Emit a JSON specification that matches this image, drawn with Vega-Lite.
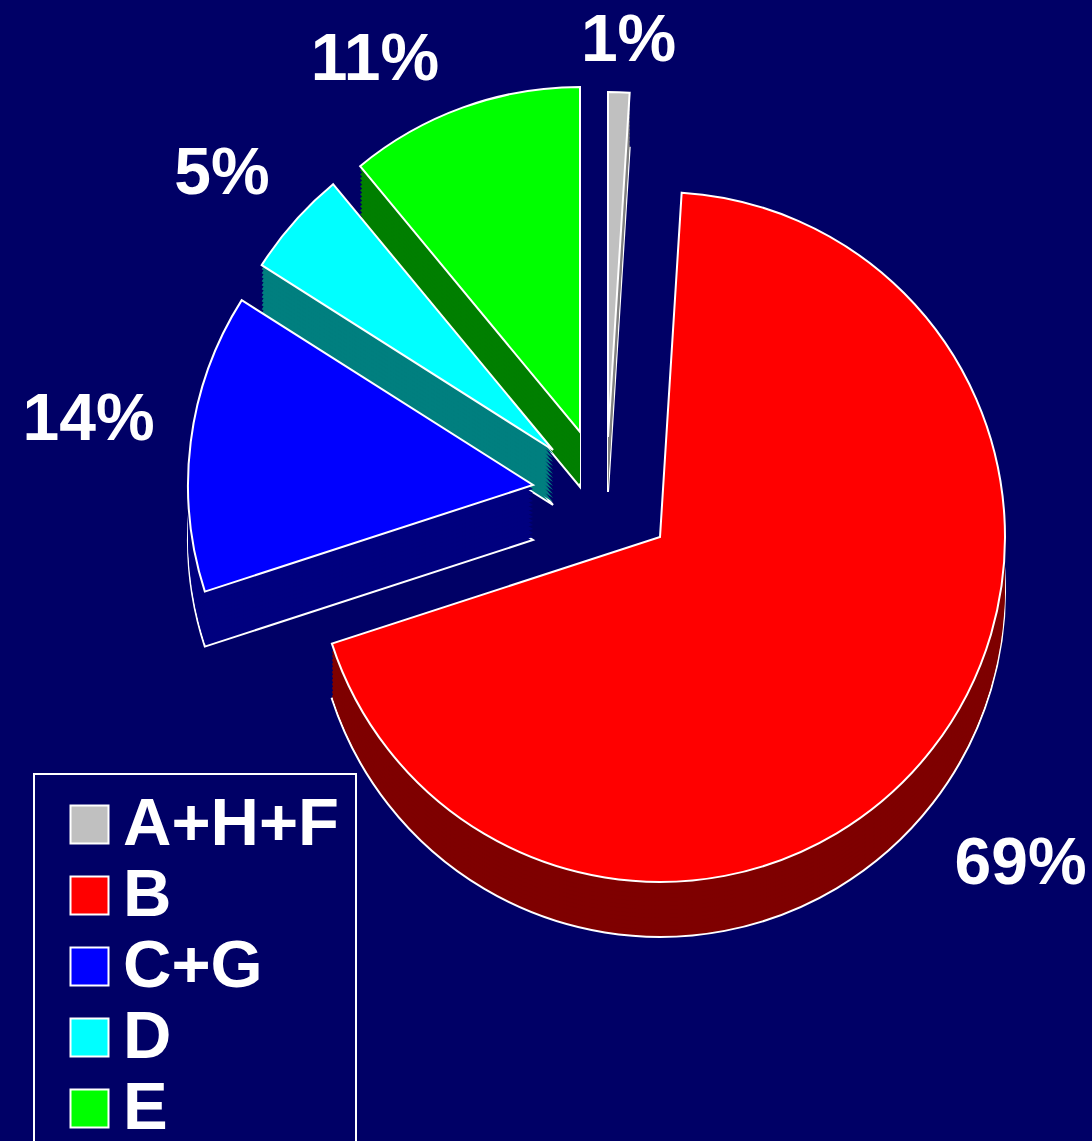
{
  "$schema": "https://vega.github.io/schema/vega-lite/v6.json",
  "width": 864,
  "height": 1074,
  "autosize": {"type": "none"},
  "padding": {"left": 228, "top": 0, "right": 0, "bottom": 67},
  "background": "#000066",
  "config": {"view": {"stroke": null}, "legend": {"strokeWidth": 2}},
  "data": {"values": [
    {"category": "A+H+F", "value": 1, "label": "1%"},
    {"category": "B", "value": 69, "label": "69%"},
    {"category": "C+G", "value": 14, "label": "14%"},
    {"category": "D", "value": 5, "label": "5%"},
    {"category": "E", "value": 11, "label": "11%"}
  ]},
  "transform": [
    {"stack": "value", "groupby": [], "as": ["start", "end"], "sort": [{"field": "category", "order": "ascending"}]},
    {"calculate": "(datum.start + datum.end) / 2", "as": "mid"}
  ],
  "layer": [
    {
      "transform": [{"filter": "datum.category === 'A+H+F'"}],
      "encoding": {"theta": {"field": "start", "type": "quantitative", "scale": {"domain": [0, 100]}}, "theta2": {"field": "end"}},
      "layer": [
        {"mark": {"type": "arc", "radius": 345, "xOffset": -52, "yOffset": -45, "fill": "#808080", "stroke": "white", "strokeWidth": 2}},
        {"mark": {"type": "arc", "radius": 345, "xOffset": -52, "yOffset": -48, "fill": "#808080"}},
        {"mark": {"type": "arc", "radius": 345, "xOffset": -52, "yOffset": -52, "fill": "#808080"}},
        {"mark": {"type": "arc", "radius": 345, "xOffset": -52, "yOffset": -56, "fill": "#808080"}},
        {"mark": {"type": "arc", "radius": 345, "xOffset": -52, "yOffset": -60, "fill": "#808080"}},
        {"mark": {"type": "arc", "radius": 345, "xOffset": -52, "yOffset": -64, "fill": "#808080"}},
        {"mark": {"type": "arc", "radius": 345, "xOffset": -52, "yOffset": -68, "fill": "#808080"}},
        {"mark": {"type": "arc", "radius": 345, "xOffset": -52, "yOffset": -72, "fill": "#808080"}},
        {"mark": {"type": "arc", "radius": 345, "xOffset": -52, "yOffset": -76, "fill": "#808080"}},
        {"mark": {"type": "arc", "radius": 345, "xOffset": -52, "yOffset": -80, "fill": "#808080"}},
        {"mark": {"type": "arc", "radius": 345, "xOffset": -52, "yOffset": -84, "fill": "#808080"}},
        {"mark": {"type": "arc", "radius": 345, "xOffset": -52, "yOffset": -88, "fill": "#808080"}},
        {"mark": {"type": "arc", "radius": 345, "xOffset": -52, "yOffset": -92, "fill": "#808080"}},
        {"mark": {"type": "arc", "radius": 345, "xOffset": -52, "yOffset": -96, "fill": "#808080"}},
        {"mark": {"type": "arc", "radius": 345, "xOffset": -52, "yOffset": -100, "stroke": "white", "strokeWidth": 2, "opacity": 1},
         "encoding": {
           "color": {"field": "category", "type": "nominal",
             "scale": {"domain": ["A+H+F", "B", "C+G", "D", "E"], "range": ["#c0c0c0", "#ff0000", "#0000ff", "#00ffff", "#00ff00"]},
             "legend": {"title": null, "orient": "none", "legendX": -194, "legendY": 774, "direction": "vertical", "symbolType": "square", "symbolSize": 1444, "symbolStrokeColor": "white", "symbolStrokeWidth": 2, "symbolOffset": 5, "labelFont": "Liberation Sans", "labelFontWeight": "bold", "labelFontSize": 67, "labelColor": "white", "labelOffset": 0, "labelLimit": 400, "rowPadding": 3, "padding": 17, "strokeColor": "white", "fillColor": "#000066"}}
         }}
      ]
    },
    {
      "transform": [{"filter": "datum.category === 'B'"}],
      "encoding": {"theta": {"field": "start", "type": "quantitative", "scale": {"domain": [0, 100]}}, "theta2": {"field": "end"}},
      "layer": [
        {"mark": {"type": "arc", "radius": 345, "xOffset": 0, "yOffset": 55, "fill": "#7f0000", "stroke": "white", "strokeWidth": 2}},
        {"mark": {"type": "arc", "radius": 345, "xOffset": 0, "yOffset": 52, "fill": "#7f0000"}},
        {"mark": {"type": "arc", "radius": 345, "xOffset": 0, "yOffset": 48, "fill": "#7f0000"}},
        {"mark": {"type": "arc", "radius": 345, "xOffset": 0, "yOffset": 44, "fill": "#7f0000"}},
        {"mark": {"type": "arc", "radius": 345, "xOffset": 0, "yOffset": 40, "fill": "#7f0000"}},
        {"mark": {"type": "arc", "radius": 345, "xOffset": 0, "yOffset": 36, "fill": "#7f0000"}},
        {"mark": {"type": "arc", "radius": 345, "xOffset": 0, "yOffset": 32, "fill": "#7f0000"}},
        {"mark": {"type": "arc", "radius": 345, "xOffset": 0, "yOffset": 28, "fill": "#7f0000"}},
        {"mark": {"type": "arc", "radius": 345, "xOffset": 0, "yOffset": 24, "fill": "#7f0000"}},
        {"mark": {"type": "arc", "radius": 345, "xOffset": 0, "yOffset": 20, "fill": "#7f0000"}},
        {"mark": {"type": "arc", "radius": 345, "xOffset": 0, "yOffset": 16, "fill": "#7f0000"}},
        {"mark": {"type": "arc", "radius": 345, "xOffset": 0, "yOffset": 12, "fill": "#7f0000"}},
        {"mark": {"type": "arc", "radius": 345, "xOffset": 0, "yOffset": 8, "fill": "#7f0000"}},
        {"mark": {"type": "arc", "radius": 345, "xOffset": 0, "yOffset": 4, "fill": "#7f0000"}},
        {"mark": {"type": "arc", "radius": 345, "xOffset": 0, "yOffset": 0, "stroke": "white", "strokeWidth": 2, "opacity": 1},
         "encoding": {
           "color": {"field": "category", "type": "nominal",
             "scale": {"domain": ["A+H+F", "B", "C+G", "D", "E"], "range": ["#c0c0c0", "#ff0000", "#0000ff", "#00ffff", "#00ff00"]},
             "legend": {"title": null, "orient": "none", "legendX": -194, "legendY": 774, "direction": "vertical", "symbolType": "square", "symbolSize": 1444, "symbolStrokeColor": "white", "symbolStrokeWidth": 2, "symbolOffset": 5, "labelFont": "Liberation Sans", "labelFontWeight": "bold", "labelFontSize": 67, "labelColor": "white", "labelOffset": 0, "labelLimit": 400, "rowPadding": 3, "padding": 17, "strokeColor": "white", "fillColor": "#000066"}}
         }}
      ]
    },
    {
      "transform": [{"filter": "datum.category === 'E'"}],
      "encoding": {"theta": {"field": "start", "type": "quantitative", "scale": {"domain": [0, 100]}}, "theta2": {"field": "end"}},
      "layer": [
        {"mark": {"type": "arc", "radius": 345, "xOffset": -80, "yOffset": -50, "fill": "#007f00", "stroke": "white", "strokeWidth": 2}},
        {"mark": {"type": "arc", "radius": 345, "xOffset": -80, "yOffset": -53, "fill": "#007f00"}},
        {"mark": {"type": "arc", "radius": 345, "xOffset": -80, "yOffset": -57, "fill": "#007f00"}},
        {"mark": {"type": "arc", "radius": 345, "xOffset": -80, "yOffset": -61, "fill": "#007f00"}},
        {"mark": {"type": "arc", "radius": 345, "xOffset": -80, "yOffset": -65, "fill": "#007f00"}},
        {"mark": {"type": "arc", "radius": 345, "xOffset": -80, "yOffset": -69, "fill": "#007f00"}},
        {"mark": {"type": "arc", "radius": 345, "xOffset": -80, "yOffset": -73, "fill": "#007f00"}},
        {"mark": {"type": "arc", "radius": 345, "xOffset": -80, "yOffset": -77, "fill": "#007f00"}},
        {"mark": {"type": "arc", "radius": 345, "xOffset": -80, "yOffset": -81, "fill": "#007f00"}},
        {"mark": {"type": "arc", "radius": 345, "xOffset": -80, "yOffset": -85, "fill": "#007f00"}},
        {"mark": {"type": "arc", "radius": 345, "xOffset": -80, "yOffset": -89, "fill": "#007f00"}},
        {"mark": {"type": "arc", "radius": 345, "xOffset": -80, "yOffset": -93, "fill": "#007f00"}},
        {"mark": {"type": "arc", "radius": 345, "xOffset": -80, "yOffset": -97, "fill": "#007f00"}},
        {"mark": {"type": "arc", "radius": 345, "xOffset": -80, "yOffset": -101, "fill": "#007f00"}},
        {"mark": {"type": "arc", "radius": 345, "xOffset": -80, "yOffset": -105, "stroke": "white", "strokeWidth": 2, "opacity": 1},
         "encoding": {
           "color": {"field": "category", "type": "nominal",
             "scale": {"domain": ["A+H+F", "B", "C+G", "D", "E"], "range": ["#c0c0c0", "#ff0000", "#0000ff", "#00ffff", "#00ff00"]},
             "legend": {"title": null, "orient": "none", "legendX": -194, "legendY": 774, "direction": "vertical", "symbolType": "square", "symbolSize": 1444, "symbolStrokeColor": "white", "symbolStrokeWidth": 2, "symbolOffset": 5, "labelFont": "Liberation Sans", "labelFontWeight": "bold", "labelFontSize": 67, "labelColor": "white", "labelOffset": 0, "labelLimit": 400, "rowPadding": 3, "padding": 17, "strokeColor": "white", "fillColor": "#000066"}}
         }}
      ]
    },
    {
      "transform": [{"filter": "datum.category === 'D'"}],
      "encoding": {"theta": {"field": "start", "type": "quantitative", "scale": {"domain": [0, 100]}}, "theta2": {"field": "end"}},
      "layer": [
        {"mark": {"type": "arc", "radius": 345, "xOffset": -107, "yOffset": -32, "fill": "#007f7f", "stroke": "white", "strokeWidth": 2}},
        {"mark": {"type": "arc", "radius": 345, "xOffset": -107, "yOffset": -35, "fill": "#007f7f"}},
        {"mark": {"type": "arc", "radius": 345, "xOffset": -107, "yOffset": -39, "fill": "#007f7f"}},
        {"mark": {"type": "arc", "radius": 345, "xOffset": -107, "yOffset": -43, "fill": "#007f7f"}},
        {"mark": {"type": "arc", "radius": 345, "xOffset": -107, "yOffset": -47, "fill": "#007f7f"}},
        {"mark": {"type": "arc", "radius": 345, "xOffset": -107, "yOffset": -51, "fill": "#007f7f"}},
        {"mark": {"type": "arc", "radius": 345, "xOffset": -107, "yOffset": -55, "fill": "#007f7f"}},
        {"mark": {"type": "arc", "radius": 345, "xOffset": -107, "yOffset": -59, "fill": "#007f7f"}},
        {"mark": {"type": "arc", "radius": 345, "xOffset": -107, "yOffset": -63, "fill": "#007f7f"}},
        {"mark": {"type": "arc", "radius": 345, "xOffset": -107, "yOffset": -67, "fill": "#007f7f"}},
        {"mark": {"type": "arc", "radius": 345, "xOffset": -107, "yOffset": -71, "fill": "#007f7f"}},
        {"mark": {"type": "arc", "radius": 345, "xOffset": -107, "yOffset": -75, "fill": "#007f7f"}},
        {"mark": {"type": "arc", "radius": 345, "xOffset": -107, "yOffset": -79, "fill": "#007f7f"}},
        {"mark": {"type": "arc", "radius": 345, "xOffset": -107, "yOffset": -83, "fill": "#007f7f"}},
        {"mark": {"type": "arc", "radius": 345, "xOffset": -107, "yOffset": -87, "stroke": "white", "strokeWidth": 2, "opacity": 1},
         "encoding": {
           "color": {"field": "category", "type": "nominal",
             "scale": {"domain": ["A+H+F", "B", "C+G", "D", "E"], "range": ["#c0c0c0", "#ff0000", "#0000ff", "#00ffff", "#00ff00"]},
             "legend": {"title": null, "orient": "none", "legendX": -194, "legendY": 774, "direction": "vertical", "symbolType": "square", "symbolSize": 1444, "symbolStrokeColor": "white", "symbolStrokeWidth": 2, "symbolOffset": 5, "labelFont": "Liberation Sans", "labelFontWeight": "bold", "labelFontSize": 67, "labelColor": "white", "labelOffset": 0, "labelLimit": 400, "rowPadding": 3, "padding": 17, "strokeColor": "white", "fillColor": "#000066"}}
         }}
      ]
    },
    {
      "transform": [{"filter": "datum.category === 'C+G'"}],
      "encoding": {"theta": {"field": "start", "type": "quantitative", "scale": {"domain": [0, 100]}}, "theta2": {"field": "end"}},
      "layer": [
        {"mark": {"type": "arc", "radius": 345, "xOffset": -127, "yOffset": 3, "fill": "#00007f", "stroke": "white", "strokeWidth": 2}},
        {"mark": {"type": "arc", "radius": 345, "xOffset": -127, "yOffset": 0, "fill": "#00007f"}},
        {"mark": {"type": "arc", "radius": 345, "xOffset": -127, "yOffset": -4, "fill": "#00007f"}},
        {"mark": {"type": "arc", "radius": 345, "xOffset": -127, "yOffset": -8, "fill": "#00007f"}},
        {"mark": {"type": "arc", "radius": 345, "xOffset": -127, "yOffset": -12, "fill": "#00007f"}},
        {"mark": {"type": "arc", "radius": 345, "xOffset": -127, "yOffset": -16, "fill": "#00007f"}},
        {"mark": {"type": "arc", "radius": 345, "xOffset": -127, "yOffset": -20, "fill": "#00007f"}},
        {"mark": {"type": "arc", "radius": 345, "xOffset": -127, "yOffset": -24, "fill": "#00007f"}},
        {"mark": {"type": "arc", "radius": 345, "xOffset": -127, "yOffset": -28, "fill": "#00007f"}},
        {"mark": {"type": "arc", "radius": 345, "xOffset": -127, "yOffset": -32, "fill": "#00007f"}},
        {"mark": {"type": "arc", "radius": 345, "xOffset": -127, "yOffset": -36, "fill": "#00007f"}},
        {"mark": {"type": "arc", "radius": 345, "xOffset": -127, "yOffset": -40, "fill": "#00007f"}},
        {"mark": {"type": "arc", "radius": 345, "xOffset": -127, "yOffset": -44, "fill": "#00007f"}},
        {"mark": {"type": "arc", "radius": 345, "xOffset": -127, "yOffset": -48, "fill": "#00007f"}},
        {"mark": {"type": "arc", "radius": 345, "xOffset": -127, "yOffset": -52, "stroke": "white", "strokeWidth": 2, "opacity": 1},
         "encoding": {
           "color": {"field": "category", "type": "nominal",
             "scale": {"domain": ["A+H+F", "B", "C+G", "D", "E"], "range": ["#c0c0c0", "#ff0000", "#0000ff", "#00ffff", "#00ff00"]},
             "legend": {"title": null, "orient": "none", "legendX": -194, "legendY": 774, "direction": "vertical", "symbolType": "square", "symbolSize": 1444, "symbolStrokeColor": "white", "symbolStrokeWidth": 2, "symbolOffset": 5, "labelFont": "Liberation Sans", "labelFontWeight": "bold", "labelFontSize": 67, "labelColor": "white", "labelOffset": 0, "labelLimit": 400, "rowPadding": 3, "padding": 17, "strokeColor": "white", "fillColor": "#000066"}}
         }}
      ]
    },
    {
      "encoding": {"theta": {"field": "mid", "type": "quantitative", "scale": {"domain": [0, 100]}}, "text": {"field": "label"}},
      "layer": [
        {"transform": [{"filter": "datum.category === 'A+H+F'"}],
         "mark": {"type": "text", "radius": 401, "xOffset": -44, "yOffset": -95, "font": "Liberation Sans", "fontWeight": "bold", "fontSize": 66, "fill": "white", "align": "center", "baseline": "middle"}},
        {"transform": [{"filter": "datum.category === 'B'"}],
         "mark": {"type": "text", "radius": 483, "xOffset": -21, "yOffset": 31, "font": "Liberation Sans", "fontWeight": "bold", "fontSize": 66, "fill": "white", "align": "center", "baseline": "middle"}},
        {"transform": [{"filter": "datum.category === 'E'"}],
         "mark": {"type": "text", "radius": 425, "xOffset": -141, "yOffset": -77, "font": "Liberation Sans", "fontWeight": "bold", "fontSize": 66, "fill": "white", "align": "center", "baseline": "middle"}},
        {"transform": [{"filter": "datum.category === 'D'"}],
         "mark": {"type": "text", "radius": 432, "xOffset": -114, "yOffset": -77, "font": "Liberation Sans", "fontWeight": "bold", "fontSize": 66, "fill": "white", "align": "center", "baseline": "middle"}},
        {"transform": [{"filter": "datum.category === 'C+G'"}],
         "mark": {"type": "text", "radius": 450, "xOffset": -125, "yOffset": -61, "font": "Liberation Sans", "fontWeight": "bold", "fontSize": 66, "fill": "white", "align": "center", "baseline": "middle"}}
      ]
    }
  ]
}
